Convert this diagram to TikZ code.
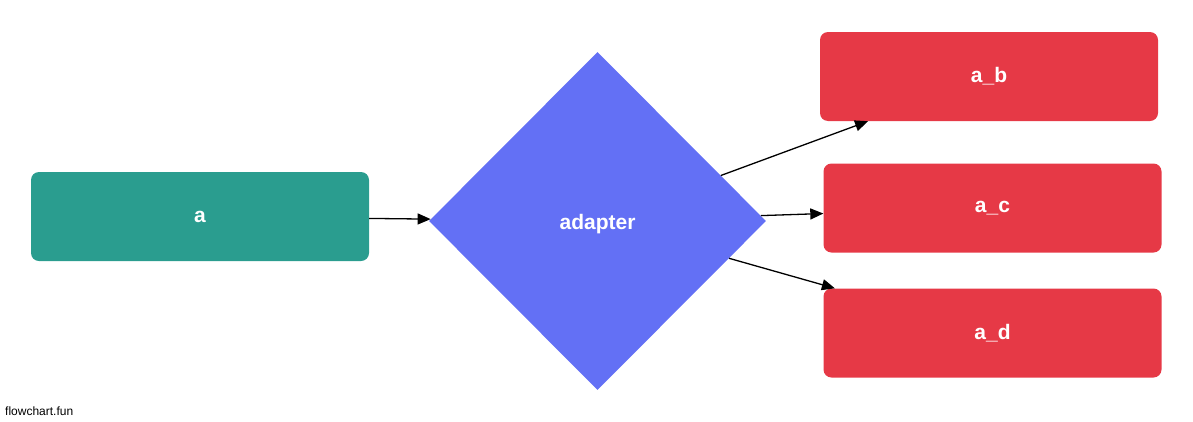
\documentclass[tikz,border=0pt]{standalone}
\usepackage{fontspec}
\setmainfont{Liberation Sans}
\usetikzlibrary{shapes.geometric,arrows.meta}
\definecolor{tealc}{HTML}{2A9D8F}
\definecolor{redc}{HTML}{E63946}
\definecolor{bluec}{HTML}{6370F5}
\tikzset{
  lbl/.style={text=white, font=\bfseries\fontsize{21}{24}\selectfont},
  box/.style={lbl, draw=none, rounded corners=8pt, minimum width=338pt, minimum height=89pt, inner sep=0pt},
  dia/.style={diamond, aspect=1, draw=none, fill=bluec, minimum width=337pt, minimum height=338pt, inner sep=0pt},
  edge/.style={line width=1.3pt, -{Triangle[length=13pt,width=11pt]}},
}
\begin{document}
\begin{tikzpicture}[x=1pt,y=-1pt]
\useasboundingbox (0,0) rectangle (1193,421);
\node[box, fill=tealc] (a) at (200,216.5) {a};
\node[dia] (adapter) at (597.5,221) {};
\node[lbl] (adapterlabel) at (597.5,224) {adapter};
\node[box, fill=redc] (ab) at (989,76.5) {a\_b};
\node[box, fill=redc] (ac) at (992.5,208) {a\_c};
\node[box, fill=redc] (ad) at (992.5,333) {a\_d};
\draw[edge] (a) -- (adapter);
\draw[edge] (adapter) -- (ab);
\draw[edge] (adapter) -- (ac);
\draw[edge] (adapter) -- (ad);
\node[anchor=south west, inner sep=0pt, font=\fontsize{12}{14}\selectfont] (credit) at (5,416) {flowchart.fun};
\end{tikzpicture}
\end{document}
